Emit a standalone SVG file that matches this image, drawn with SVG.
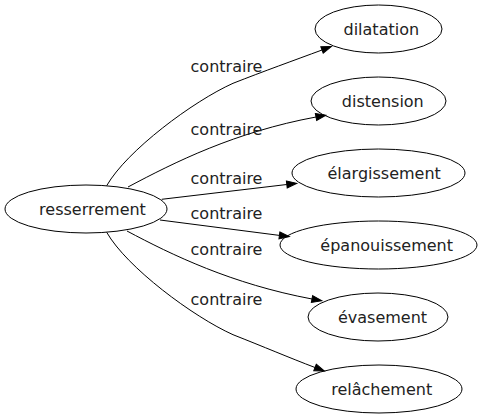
<svg xmlns="http://www.w3.org/2000/svg" width="482" height="419" viewBox="0 0 482 419">
<style>
.node ellipse { fill: none; stroke: #000; stroke-width: 1; }
.node text, .lbl { font-family: "DejaVu Sans", sans-serif; font-size: 16px; fill: #222; text-anchor: middle; }
.edge { fill: none; stroke: #000; stroke-width: 1; marker-end: url(#arr); }
</style>
<defs>
<marker id="arr" markerWidth="12" markerHeight="9" refX="0" refY="3.5" orient="auto" markerUnits="userSpaceOnUse" overflow="visible">
<path d="M0,0 L10,3.5 L0,7 z" fill="#000" stroke="#000" stroke-width="1"/>
</marker>
</defs>
<rect width="482" height="419" fill="#fff"/>
<g id="connectors">
<path class="edge" d="M106.7,185.7 C126.7,150.7 193,101.3 233,83.3 C263,71.5 295,60 322,50"/>
<path class="edge" d="M128,187 C175,162 235,132 316,117"/>
<path class="edge" d="M161.7,199.3 L286.8,184.5"/>
<path class="edge" d="M160,220 L279.4,235.4"/>
<path class="edge" d="M127,231 C172,255 232,284 312,299"/>
<path class="edge" d="M106.7,232.3 C126.7,267.3 193,316.7 233,334.7 C263,346.5 290,358 315,367.5"/>
<text class="lbl" x="226.5" y="72">contraire</text>
<text class="lbl" x="226.5" y="134.5">contraire</text>
<text class="lbl" x="226.5" y="183.5">contraire</text>
<text class="lbl" x="226.5" y="218.5">contraire</text>
<text class="lbl" x="226.5" y="255">contraire</text>
<text class="lbl" x="226.5" y="305">contraire</text>
</g>
<g id="n_resserrement" class="node"><ellipse cx="86" cy="209" rx="81" ry="24"/><text x="92.5" y="214.5">resserrement</text></g>
<g id="n_dilatation" class="node"><ellipse cx="378.5" cy="29" rx="63.5" ry="24"/><text x="381.3" y="35">dilatation</text></g>
<g id="n_distension" class="node"><ellipse cx="378.5" cy="101" rx="67.5" ry="24"/><text x="382.8" y="107">distension</text></g>
<g id="n_elargissement" class="node"><ellipse cx="378.5" cy="173" rx="86.5" ry="24"/><text x="384.2" y="179">élargissement</text></g>
<g id="n_epanouissement" class="node"><ellipse cx="378.5" cy="245" rx="98.5" ry="24"/><text x="386.7" y="251">épanouissement</text></g>
<g id="n_evasement" class="node"><ellipse cx="378" cy="317" rx="70" ry="24"/><text x="382.5" y="323">évasement</text></g>
<g id="n_relachement" class="node"><ellipse cx="379" cy="389" rx="83" ry="24"/><text x="381.7" y="395">relâchement</text></g>
</svg>
